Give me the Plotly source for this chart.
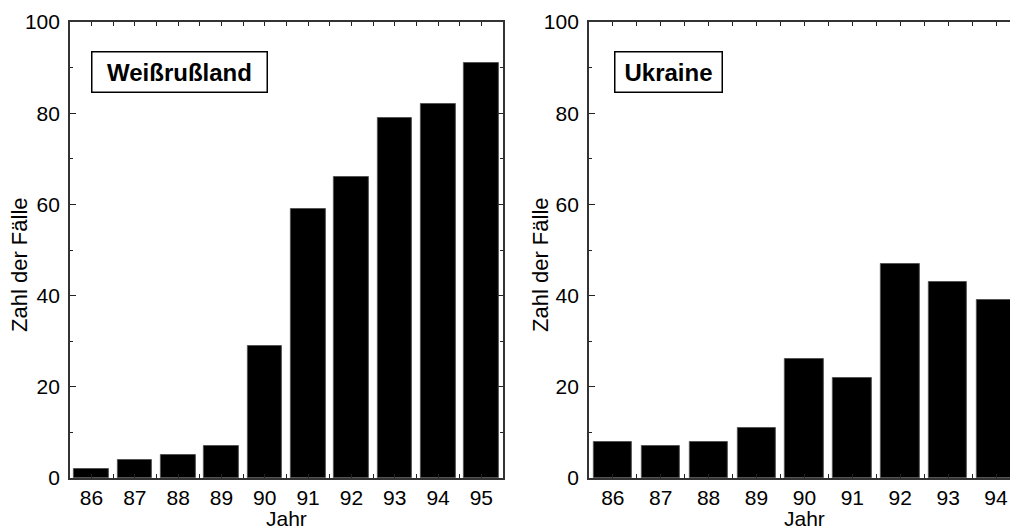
import plotly.graph_objects as go

years = [86, 87, 88, 89, 90, 91, 92, 93, 94, 95]
belarus = [2, 4, 5, 7, 29, 59, 66, 79, 82, 91]
ukraine_years = [86, 87, 88, 89, 90, 91, 92, 93, 94]
ukraine = [8, 7, 8, 11, 26, 22, 47, 43, 39]
y_ticks = [0, 20, 40, 60, 80, 100]
titles = ["Weißrußland", "Ukraine"]
x_title = "Jahr"
y_title = "Zahl der Fälle"

# page has an 8px body margin, so the figure is drawn 8px right/down
W, H = 1010, 522
TOP, BOT = 14, 470
PH = BOT - TOP
FONT = "Liberation Sans, Arial, Helvetica, sans-serif"

fig = go.Figure()
fig.add_trace(go.Bar(x=years, y=belarus, width=0.8, xaxis="x", yaxis="y",
                     marker=dict(color="black", line=dict(color="#555", width=1))))
fig.add_trace(go.Bar(x=ukraine_years, y=ukraine, width=0.8, xaxis="x2", yaxis="y2",
                     marker=dict(color="black", line=dict(color="#555", width=1))))

def xax(domain, rng, anchor):
    return dict(domain=domain, range=rng, anchor=anchor, tickmode="array",
                tickvals=years, ticktext=[str(v) for v in years],
                ticks="inside", ticklen=4, tickwidth=1, tickcolor="#222",
                showline=True, linecolor="#333", linewidth=1.5, mirror="ticks",
                showgrid=False, zeroline=False, ticklabelstandoff=0,
                tickfont=dict(size=21, color="black", family=FONT),
                minor=dict(dtick=0.5, tick0=85.5, ticks="inside", ticklen=4,
                           tickcolor="#222", showgrid=False))

def yax(anchor):
    return dict(domain=[0, 1], range=[0, 100], anchor=anchor, tickmode="array",
                tickvals=y_ticks, ticks="inside", ticklen=6, tickwidth=1,
                tickcolor="#222", showline=True, linecolor="#333", linewidth=1.5,
                mirror="ticks", showgrid=False, zeroline=False,
                ticklabelstandoff=4,
                tickfont=dict(size=21, color="black", family=FONT),
                minor=dict(dtick=10, tick0=0, ticks="inside", ticklen=3,
                           tickcolor="#222", showgrid=False))

x1_dom = [62 / W, 496 / W]
x2_dom = [582 / W, 1.0]

def py(y):
    return (BOT - y) / PH

annotations = []
for t, cx, bw in zip(titles, [172, 662], [162, 94]):
    annotations.append(dict(text="<b>%s</b>" % t, xref="paper", yref="paper",
                            x=cx / W, y=py(64), xanchor="center",
                            yanchor="middle", showarrow=False, width=bw,
                            align="center",
                            font=dict(size=24, color="black", family=FONT),
                            bordercolor="black", borderwidth=1.5, borderpad=6,
                            bgcolor="white"))
for cx in [279, 798]:
    annotations.append(dict(text=x_title, xref="paper", yref="paper",
                            x=cx / W, y=py(511), xanchor="center",
                            yanchor="middle", showarrow=False,
                            font=dict(size=21, color="black", family=FONT)))
for cx in [11, 533]:
    annotations.append(dict(text=y_title, xref="paper", yref="paper",
                            x=cx / W, y=py(256), xanchor="center",
                            yanchor="middle", showarrow=False, textangle=-90,
                            font=dict(size=22, color="black", family=FONT)))

fig.update_layout(
    width=W, height=H,
    margin=dict(l=0, r=0, t=TOP, b=H - BOT),
    paper_bgcolor="white", plot_bgcolor="white",
    showlegend=False, bargap=0,
    font=dict(family=FONT, color="black"),
    xaxis=xax(x1_dom, [85.5, 95.5], "y"),
    yaxis=yax("x"),
    xaxis2=xax(x2_dom, [85.5, 85.5 + 428 / 48], "y2"),
    yaxis2=yax("x2"),
    annotations=annotations,
)

fig.write_html("out.html")
